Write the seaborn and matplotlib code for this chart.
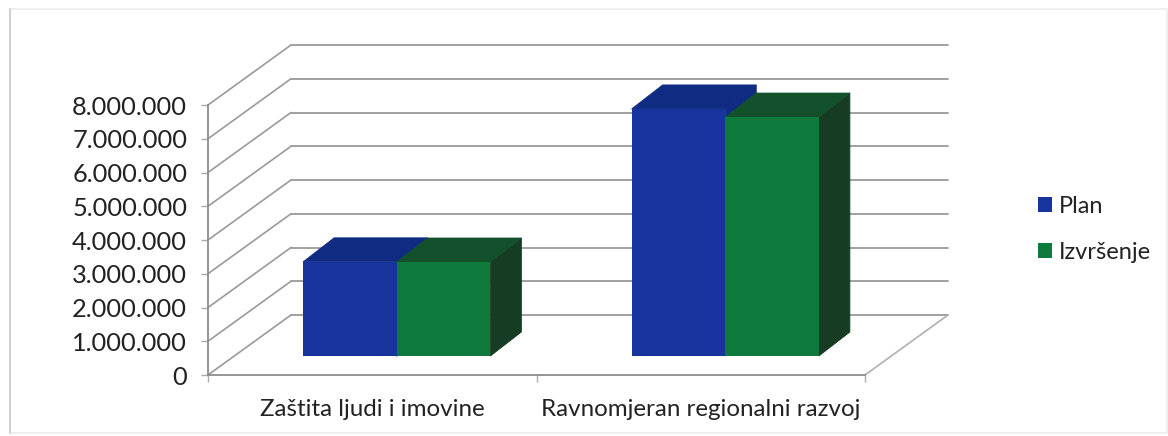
import matplotlib
matplotlib.use("Agg")
import matplotlib.pyplot as plt
import matplotlib.transforms as mtrans
from matplotlib.patches import Polygon, Rectangle
import pandas as pd
import seaborn as sns

categories = ["Zaštita ljudi i imovine", "Ravnomjeran regionalni razvoj"]
plan_values = [2790000, 7320000]
izvrsenje_values = [2785000, 7080000]
series_names = ["Plan", "Izvršenje"]
y_ticks = [0, 1000000, 2000000, 3000000, 4000000, 5000000, 6000000, 7000000, 8000000]

W, H = 1168, 436
FRONT = "#16349b", "#0e7a3b"
TOP = "#102c82", "#12512c"
SIDE = "#102c82", "#163c24"
GRID = "#9a9a9a"
INK = "#222222"

sns.set_theme(style="white")
plt.rcParams["font.family"] = ["Lato", "DejaVu Sans"]

fig = plt.figure(figsize=(W / 100, H / 100), dpi=100, facecolor="white")


def axes_px(x0, x1, ytop, ybot):
    return fig.add_axes([x0 / W, 1 - ybot / H, (x1 - x0) / W, (ybot - ytop) / H])


# frame of the chart area
fig.add_artist(Rectangle((10 / W, 3 / H), 1157 / W, 424 / H, transform=fig.transFigure,
                         fill=False, ec="#ececec", lw=1.2))
fig.add_artist(plt.Line2D([10 / W, 10 / W], [3 / H, 427 / H], color="#cccccc", lw=1.2))

# front plane: axes, ticks and labels
ax = axes_px(208, 865, 105, 375)
ax.set_xlim(-0.5, 1.5)
ax.set_ylim(0, 8000000)
ax.patch.set_alpha(0)
for s in ("top", "right"):
    ax.spines[s].set_visible(False)
for s in ("left", "bottom"):
    ax.spines[s].set_color("#8c8c8c")
    ax.spines[s].set_linewidth(1.3)
ax.set_yticks(y_ticks)
ax.set_yticklabels([f"{v:,}".replace(",", ".") for v in y_ticks], fontsize=18.3, color=INK)
ax.set_xticks([0, 1])
ax.set_xticklabels(categories, fontsize=17.4, color=INK)
ax.set_xticks([-0.5, 0.5, 1.5], minor=True)
ax.tick_params(axis="y", left=True, length=5, width=1, color="#aaaaaa", pad=10)
ax.tick_params(axis="x", which="major", bottom=False, pad=11)
ax.tick_params(axis="x", which="minor", bottom=True, length=5, width=1, color="#aaaaaa")

# back wall and floor
back = mtrans.offset_copy(ax.transData, fig=fig, x=83, y=60, units="dots")
for v in y_ticks:
    ax.plot([-0.5, 1.5], [v, v], transform=back, color=GRID, lw=1.3, clip_on=False, zorder=1)
    start = ax.transData.transform((-0.5, v))
    end = back.transform((-0.5, v))
    ax.plot([start[0], end[0]], [start[1], end[1]], transform=mtrans.IdentityTransform(),
            color=GRID, lw=1.2, clip_on=False, zorder=1)
start = ax.transData.transform((1.5, 0))
end = back.transform((1.5, 0))
ax.plot([start[0], end[0]], [start[1], end[1]], transform=mtrans.IdentityTransform(),
        color="#b0b0b0", lw=1.2, clip_on=False, zorder=1)

# bars on a plane shifted into the depth of the chart
data = pd.DataFrame({
    "category": categories * 2,
    "value": plan_values + izvrsenje_values,
    "series": [series_names[0]] * 2 + [series_names[1]] * 2,
})
bx = axes_px(208 + 24.5, 865 + 24.5, 105 - 19, 375 - 19)
bx.patch.set_alpha(0)
sns.barplot(data=data, x="category", y="value", hue="series", hue_order=series_names,
            palette=list(FRONT), width=0.57, gap=0, saturation=1, ax=bx, legend=True)
bx.set_xlim(-0.5, 1.5)
bx.set_ylim(0, 8000000)
bx.set_axis_off()

DX, DY = 31, 24
bars = list(bx.patches)
for i, p in enumerate(bars):
    h = 0 if i < 2 else 1
    x, w, t = p.get_x(), p.get_width(), p.get_height()
    p.set_edgecolor("none")
    p.set_zorder(3 + 2 * h + 0.2)
    (x0, y0) = bx.transData.transform((x, 0))
    (x1, y1) = bx.transData.transform((x + w, t))
    side = [(x1, y0), (x1 + DX, y0 + DY), (x1 + DX, y1 + DY), (x1, y1)]
    top = [(x0, y1), (x0 + DX, y1 + DY), (x1 + DX, y1 + DY), (x1, y1)]
    id_tr = mtrans.IdentityTransform()
    bx.add_patch(Polygon(side, closed=True, fc=SIDE[h], ec=SIDE[h], lw=0.6, transform=id_tr,
                         clip_on=False, zorder=3 + 2 * h))
    bx.add_patch(Polygon(top, closed=True, fc=TOP[h], ec=TOP[h], lw=0.6, transform=id_tr,
                         clip_on=False, zorder=3 + 2 * h + 0.1))

handles, labels = bx.get_legend_handles_labels()
bx.legend(handles, labels, loc="upper left", bbox_to_anchor=(1031 / W, 1 - 189 / H),
          bbox_transform=fig.transFigure, frameon=False, fontsize=17, labelcolor=INK,
          handlelength=0.6, handleheight=0.6, handletextpad=0.3, labelspacing=1.05,
          borderpad=0, borderaxespad=0.3)

fig.savefig("out.png", dpi=100)
